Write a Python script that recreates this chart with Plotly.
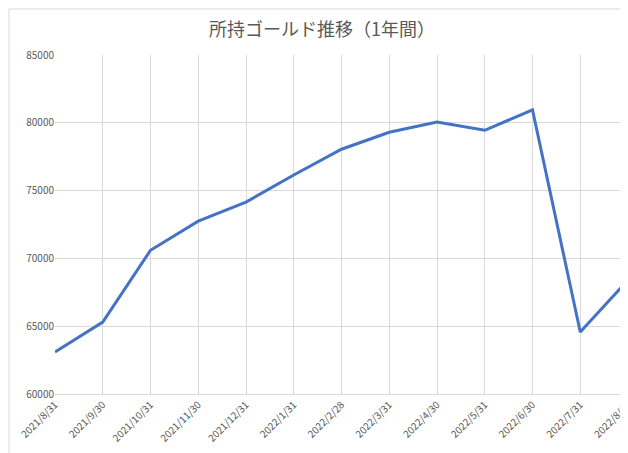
import plotly.graph_objects as go

dates = ["2021/8/31", "2021/9/30", "2021/10/31", "2021/11/30", "2021/12/31", "2022/1/31",
         "2022/2/28", "2022/3/31", "2022/4/30", "2022/5/31", "2022/6/30", "2022/7/31", "2022/8/31"]
gold = [63100, 65300, 70600, 72750, 74150, 76150, 78050, 79300, 80050, 79450, 80950, 64570, 68400]

font = "Noto Sans CJK JP"

fig = go.Figure(go.Scatter(x=list(range(len(dates))), y=gold, mode="lines",
                           line=dict(color="#4472C4", width=3)))

fig.update_layout(
    width=628, height=453,
    margin=dict(l=47, r=8, t=47, b=67, autoexpand=False),
    paper_bgcolor="white", plot_bgcolor="white",
    title=dict(text="所持ゴールド推移（1年間）", x=0.5, y=0.965, xanchor="center",
               font=dict(family=font, size=18, color="#595959")),
    font=dict(family=font, size=10, color="#595959"),
    showlegend=False,
    shapes=[dict(type="rect", xref="paper", yref="paper", x0=-46/573, x1=1+7/573,
                 y0=-66/339, y1=1+46/339, line=dict(color="#D9D9D9", width=1))],
)
fig.update_xaxes(range=[0, 12], tickmode="array", tickvals=list(range(len(dates))),
                 ticktext=dates, tickangle=-45, showgrid=True, gridcolor="#D9D9D9",
                 zeroline=False, showline=True, linecolor="#D9D9D9", automargin=False,
                 ticks="", tickfont=dict(size=10))
fig.update_yaxes(range=[60000, 85000], dtick=5000, showgrid=True, gridcolor="#D9D9D9",
                 zeroline=False, tickformat="d", ticks="", automargin=False,
                 tickfont=dict(size=10))

fig.write_html("out.html")
